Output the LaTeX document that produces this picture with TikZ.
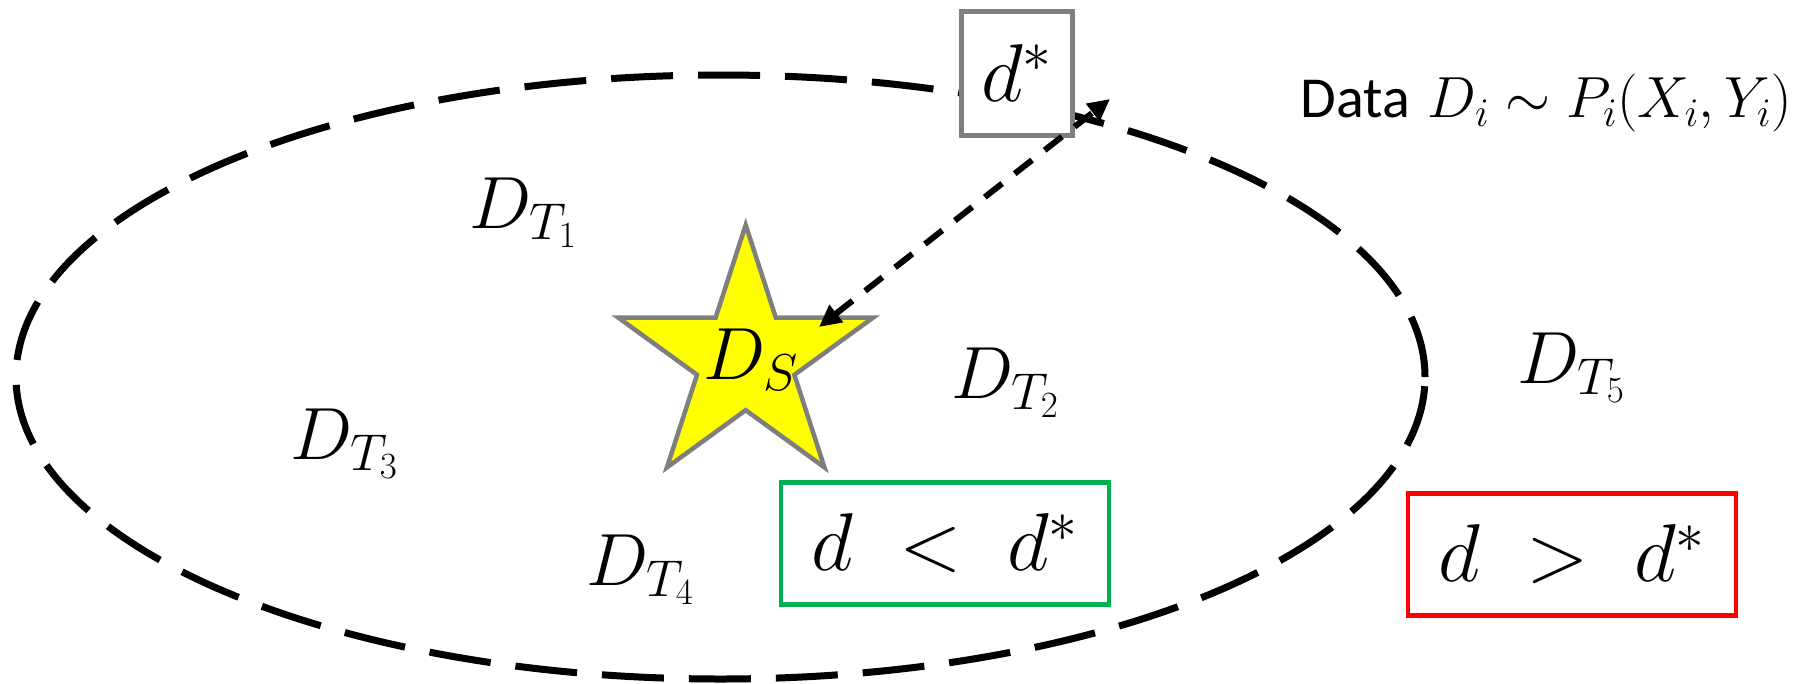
\RequirePackage{fix-cm}
\documentclass[tikz,border=0pt]{standalone}
\usepackage{fontspec}
\newfontfamily\carlito{Carlito}
\usetikzlibrary{shapes.geometric,arrows.meta}
\definecolor{boxgray}{HTML}{7F7F7F}
\definecolor{okgreen}{HTML}{00B050}
\definecolor{badred}{HTML}{FF0000}
\definecolor{staryellow}{HTML}{FFFF00}
\tikzset{tipstyle/.tip={Triangle[length=22pt,width=21pt]}}
\begin{document}
\begin{tikzpicture}[x=1pt,y=-1pt,
  lbl/.style={inner sep=0pt, font=\fontsize{74}{80}\selectfont},
  cmpbox/.style={draw, line width=4.5pt, inner sep=0pt, minimum width=328pt, minimum height=122pt, font=\fontsize{82}{88}\selectfont}
]
\useasboundingbox (0,0) rectangle (1798,683);
% domain ellipse
\node[ellipse, draw, line width=7pt, dash pattern=on 62pt off 25pt, minimum width=1409pt, minimum height=604pt, inner sep=0pt] (domain) at (720.5,377) {};
% star
\node[star, star points=5, star point ratio=2.618, minimum size=268pt, inner sep=0pt, draw=boxgray, line width=4.5pt, fill=staryellow] (star) at (745.7,359) {};
\node[lbl] (ds) at (751,360) {$D_S$};
% labels
\node[lbl] (t1) at (523,213) {$D_{T_1}$};
\node[lbl] (t2) at (1005,383) {$D_{T_2}$};
\node[lbl] (t3) at (344,444) {$D_{T_3}$};
\node[lbl] (t4) at (640,570) {$D_{T_4}$};
\node[lbl] (t5) at (1571,368) {$D_{T_5}$};
% d* box
\node[draw=boxgray, line width=5pt, fill=white, inner sep=0pt, minimum width=111pt, minimum height=124pt, font=\fontsize{82}{88}\selectfont] (dstar) at (1016.5,73) {$d^{*}$};
% data label
\node[anchor=east, inner sep=0pt, font=\fontsize{58}{64}\selectfont] (data) at (1792,103) {{\carlito Data} $D_i \sim P_i(X_i,Y_i)$};
% comparison boxes
\node[cmpbox, draw=okgreen] (less) at (945,543.5) {$d\;<\;d^{*}$};
\node[cmpbox, draw=badred] (more) at (1572,554.5) {$d\;>\;d^{*}$};
% arrow
\coordinate (a1) at (819,327);
\coordinate (a2) at (1110,99);
\draw[line width=6pt, dash pattern=on 22pt off 16pt, {tipstyle}-{tipstyle}] (a1) -- (a2);
\end{tikzpicture}
\end{document}
